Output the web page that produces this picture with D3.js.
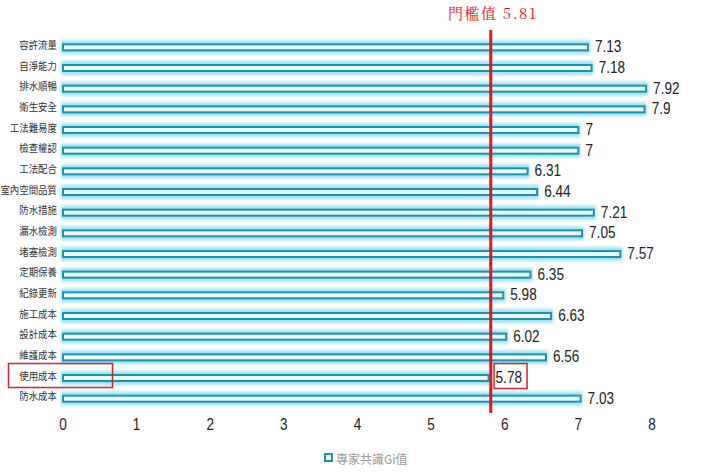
<!DOCTYPE html>
<html><head><meta charset="utf-8">
<script src="https://cdn.jsdelivr.net/npm/d3@7"></script>
<style>body{margin:0;background:#fff;}svg{display:block;}</style>
</head><body>
<script>
const categories = ["容許流量","自淨能力","排水順暢","衛生安全","工法難易度","檢查權認","工法配合","室內空間品質","防水措施","漏水檢測","堵塞檢測","定期保養","紀錄更新","施工成本","設計成本","維護成本","使用成本","防水成本"];
const values = [7.13,7.18,7.92,7.9,7,7,6.31,6.44,7.21,7.05,7.57,6.35,5.98,6.63,6.02,6.56,5.78,7.03];
const xTicks = [0,1,2,3,4,5,6,7,8];
const threshold = 5.81;
const thresholdLabel = "門檻值 5.81";
const legendLabel = "專家共識Gi值";
const highlight = "使用成本";

const W = 712, H = 475;
const svg = d3.select("body").append("svg").attr("width", W).attr("height", H);
const defs = svg.append("defs");
defs.append("filter").attr("id","glow").attr("x","-5%").attr("y","-100%").attr("width","110%").attr("height","300%")
  .append("feGaussianBlur").attr("stdDeviation", 1.8);

const x = d3.scaleLinear().domain([0, 8]).range([63, 652]);
const y = d3.scaleBand().domain(categories).range([37, 409]);
const cy = d => y(d) + y.bandwidth() / 2;

const numFont = "'Liberation Sans','Arial',sans-serif";
const cjkFont = "'Noto Sans CJK TC','Noto Sans CJK SC',sans-serif";

// glow
svg.append("g").selectAll("rect").data(categories).join("rect")
  .attr("x", x(0) - 2).attr("y", d => cy(d) - 7)
  .attr("width", (d, i) => x(values[i]) - x(0) + 4).attr("height", 14)
  .attr("fill", "#9fe3f1").attr("filter", "url(#glow)");
// bars
svg.append("g").selectAll("rect").data(categories).join("rect")
  .attr("x", x(0)).attr("y", d => cy(d) - 3)
  .attr("width", (d, i) => x(values[i]) - x(0)).attr("height", 6)
  .attr("fill", "#e6f8fb").attr("stroke", "#2290a8").attr("stroke-width", 2);

// category labels
svg.append("g").selectAll("text").data(categories).join("text")
  .attr("transform", d => `translate(57,${cy(d) - 3}) scale(0.9,1)`)
  .attr("text-anchor", "end").attr("dominant-baseline", "central")
  .attr("font-family", cjkFont).attr("font-size", 10.5).attr("fill", "#333")
  .text(d => d);

// value labels
svg.append("g").selectAll("text").data(categories).join("text")
  .attr("transform", (d, i) => `translate(${x(values[i]) + 7},${cy(d) - 1}) scale(0.8,1)`)
  .attr("dominant-baseline", "central")
  .attr("font-family", numFont).attr("font-size", 17).attr("fill", "#222")
  .text((d, i) => values[i]);

// x axis tick labels
svg.append("g").selectAll("text").data(xTicks).join("text")
  .attr("transform", d => `translate(${x(d)},424) scale(0.8,1)`)
  .attr("text-anchor", "middle").attr("dominant-baseline", "central")
  .attr("font-family", numFont).attr("font-size", 17).attr("fill", "#222")
  .text(d => d);

// threshold line
svg.append("line").attr("x1", x(threshold)).attr("x2", x(threshold))
  .attr("y1", 30).attr("y2", 413).attr("stroke", "#e8141c").attr("stroke-width", 3);
svg.append("text").attr("x", x(threshold) + 2).attr("y", 12)
  .attr("text-anchor", "middle").attr("dominant-baseline", "central")
  .attr("font-family", "'Noto Serif CJK TC','DejaVu Serif',serif").attr("font-size", 15)
  .attr("letter-spacing", 1.5).attr("fill", "#e8141c").text(thresholdLabel);

// highlight boxes
const hi = categories.indexOf(highlight);
svg.append("rect").attr("x", 8.5).attr("y", cy(highlight) - 14.5).attr("width", 104).attr("height", 24)
  .attr("fill", "none").attr("stroke", "#d9232a").attr("stroke-width", 1.5);
svg.append("rect").attr("x", x(values[hi]) + 5.5).attr("y", cy(highlight) - 14.5).attr("width", 33).attr("height", 25)
  .attr("fill", "none").attr("stroke", "#d9232a").attr("stroke-width", 1.5);

// legend
svg.append("rect").attr("x", 325).attr("y", 454).attr("width", 7).attr("height", 7)
  .attr("fill", "#e6f8fb").attr("stroke", "#2290a8").attr("stroke-width", 2);
svg.append("text").attr("x", 336).attr("y", 458).attr("dominant-baseline", "central")
  .attr("font-family", cjkFont).attr("font-size", 12).attr("fill", "#999").text(legendLabel);
</script>
</body></html>
